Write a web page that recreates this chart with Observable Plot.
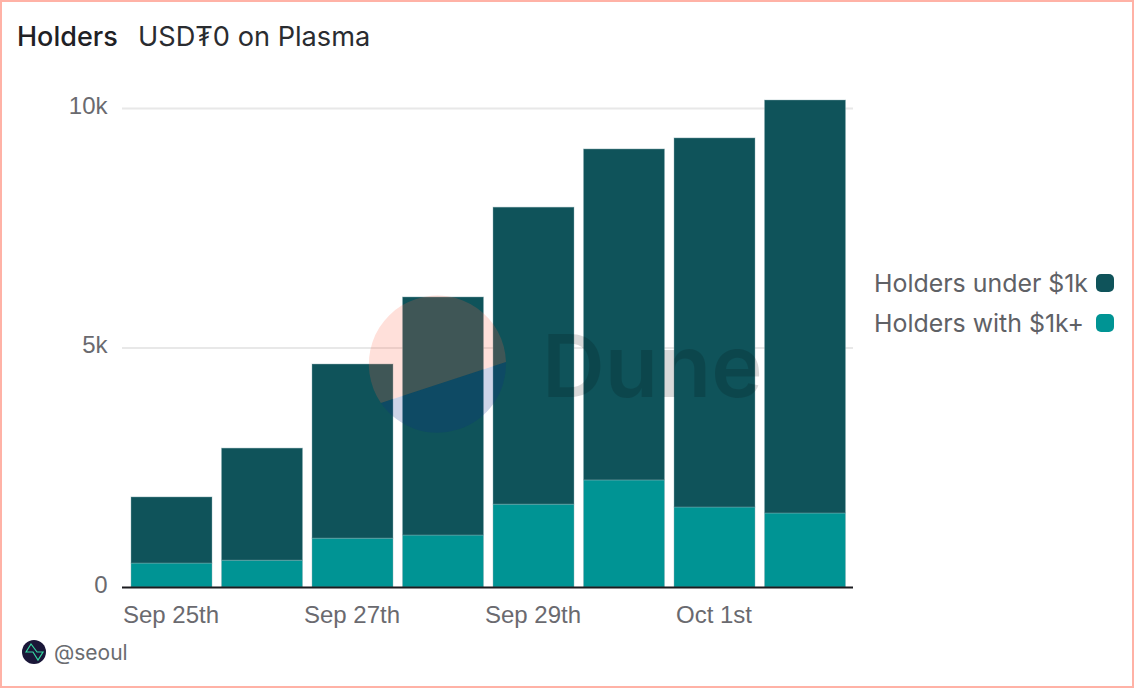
<!DOCTYPE html>
<html><head><meta charset="utf-8">
<script src="https://cdn.jsdelivr.net/npm/d3@7"></script>
<script src="https://cdn.jsdelivr.net/npm/@observablehq/plot@0.6"></script>
<style>
html,body{margin:0;padding:0;background:#fff;overflow:hidden}
#page{position:relative;width:1134px;height:688px;overflow:hidden}
#page svg{position:absolute;left:0;top:0}
.t{position:absolute;white-space:nowrap;font-family:Inter,sans-serif}
#frame{position:absolute;left:0;top:0;width:1134px;height:688px;box-sizing:border-box;border:2px solid #ffb2a6;pointer-events:none}
.sw{position:absolute;width:18px;height:18px;border-radius:5px}
</style></head><body>
<div id="page">
<div id="chart"></div>
<svg id="mark" width="1134" height="688" style="pointer-events:none">
  <path d="M380.9 403 A68.6 68.6 0 1 1 506 362 Z" fill="rgb(255,100,70)" fill-opacity="0.2"/>
  <path d="M380.9 403 L506 362 A68.6 68.6 0 0 1 380.9 403 Z" fill="rgb(10,40,140)" fill-opacity="0.2"/>
  <text x="542" y="397" font-family="Inter,sans-serif" font-weight="600" font-size="87" fill="#000" fill-opacity="0.15">Dune</text>
  <circle cx="34" cy="652" r="12" fill="#1a1638"/>
  <path d="M26 652 L31 644 L37 652 L43 652 L38 660 L33 652 Z" fill="none" stroke="#35d6a0" stroke-width="1.2"/>
</svg>
<div class="t" style="left:17px;top:20px;font-size:27px;font-weight:500;color:#1f2125">Holders</div>
<div class="t" style="left:138px;top:20px;font-size:27.2px;color:#2a2c30">USD₮0 on Plasma</div>
<div class="t" style="left:874px;top:268px;font-size:24.9px;color:#5f6166">Holders under $1k</div>
<div class="t" style="left:874px;top:308px;font-size:24.9px;color:#5f6166">Holders with $1k+</div>
<div class="sw" style="left:1096px;top:274px;background:#0f535a"></div>
<div class="sw" style="left:1096px;top:314px;background:#009494"></div>
<div class="t" style="left:54px;top:640px;font-size:21px;color:#6a6c70">@seoul</div>
<div id="frame"></div>
</div>
<script>
const dates = ["Sep 25th","Sep 26th","Sep 27th","Sep 28th","Sep 29th","Sep 30th","Oct 1st","Oct 2nd"];
const holdersWith = [500,560,1020,1085,1730,2235,1670,1545];
const holdersUnder = [1380,2340,3635,4970,6200,6910,7705,8622];
const seriesNames = ["Holders with $1k+","Holders under $1k"];
const seriesColors = ["#009494","#0f535a"];
const shownTicks = ["Sep 25th","Sep 27th","Sep 29th","Oct 1st"];
const yTicks = [0,5000,10000];

const rows = [
  ...dates.map((d,i)=>({date:d,series:seriesNames[0],value:holdersWith[i]})),
  ...dates.map((d,i)=>({date:d,series:seriesNames[1],value:holdersUnder[i]}))
];

const plot = Plot.plot({
  width:1134,height:688,
  marginLeft:122,marginRight:281,marginTop:100,marginBottom:101,
  style:{background:"transparent",fontFamily:"'Liberation Sans',Arial,sans-serif",overflow:"visible"},
  x:{type:"band",domain:dates,range:[126.25,850.25],round:false,paddingInner:0.105,paddingOuter:0.0525,label:null},
  y:{domain:[0,10167],label:null},
  color:{domain:seriesNames,range:seriesColors},
  marks:[
    Plot.ruleY([5000,10000],{stroke:"#e8e8e8",strokeWidth:2}),
    Plot.barY(rows,{x:"date",y:"value",fill:"series",order:seriesNames,stroke:"#8fb0b3",strokeOpacity:0.4,strokeWidth:1}),
    Plot.ruleY([0],{stroke:"#1b1b1f",strokeWidth:2}),
    Plot.axisY({ticks:yTicks,tickSize:0,tickPadding:15,fontSize:24,fill:"#6a6a6f",label:null,dy:-2.5,
      tickFormat:d=>d===0?"0":d/1000+"k"}),
    Plot.axisX({ticks:shownTicks,tickSize:0,tickPadding:18,fontSize:24,fill:"#6a6a6f",label:null,dx:-1})
  ]
});
document.getElementById("chart").appendChild(plot);
</script>
</body></html>
